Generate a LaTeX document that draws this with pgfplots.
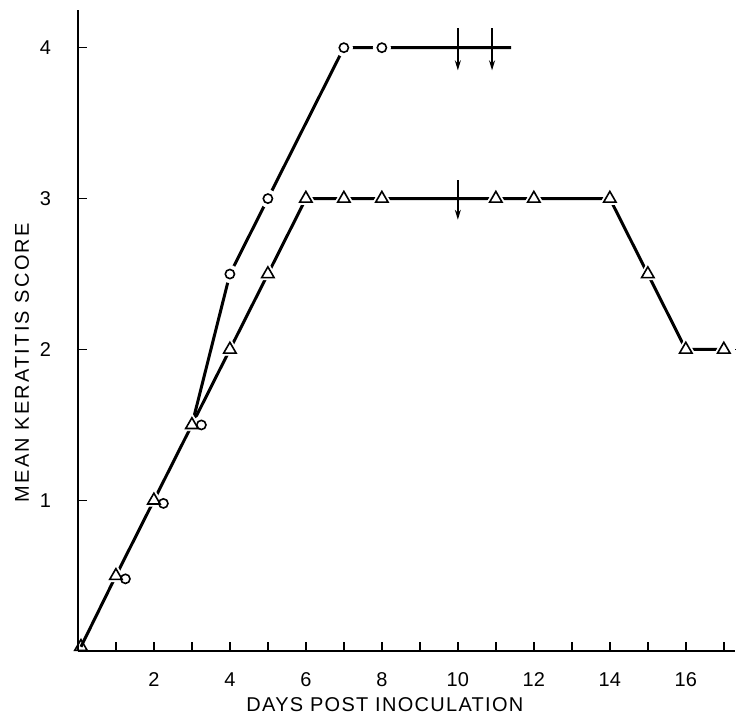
\documentclass[border=0pt]{standalone}
\usepackage{fontspec}
\setmainfont{Liberation Sans}
\usepackage{pgfplots}
\pgfplotsset{compat=1.18}
\usetikzlibrary{arrows.meta}
\begin{document}
\begin{tikzpicture}
\begin{axis}[
  scale only axis,
  width=329pt, height=321pt,
  xmin=0, xmax=17.3, ymin=0, ymax=4.25,
  axis x line=bottom, axis y line=left,
  axis line style={-, line width=0.8pt},
  xtick={2,4,...,16}, minor xtick={1,3,...,17},
  ytick={1,2,3,4},
  tick align=inside,
  major tick length=4.5pt, minor tick length=4.5pt,
  every tick/.style={black, line width=0.7pt},
  every minor tick/.style={black, line width=0.7pt},
  /pgf/number format/assume math mode=true,
  tick label style={font=\fontsize{10}{12}\selectfont},
  xticklabel style={yshift=-7pt},
  yticklabel style={xshift=-10pt},
  xlabel={DAYS POST INOCULATION},
  ylabel={MEAN KERATITIS SCORE},
  xlabel style={font=\fontsize{10}{12}\selectfont\addfontfeature{LetterSpace=6.5}, at={(axis description cs:0.467,0)}, anchor=north, yshift=-19.5pt},
  ylabel style={font=\fontsize{10}{12}\selectfont\addfontfeature{LetterSpace=11}, at={(axis description cs:-0.085,0.45)}, anchor=center},
  clip=false,
]
% lines
\addplot[black, line width=1.5pt] coordinates {(0.08,0.03)(1,0.5)(2,1)(3,1.5)(4,2)(5,2.5)(6,3)(7,3)(8,3)(11,3)(12,3)(14,3)(15,2.5)(16,2)(17,2)};
\addplot[black, line width=1.5pt] coordinates {(3,1.5)(4,2.5)(5,3)(7,4)(8,4)(11.4,4)};
\addplot[black, line width=0.8pt, dotted] coordinates {(17.15,2)(17.3,2)};
% halos
\addplot[only marks, white, mark=triangle*, mark size=5.8pt, mark options={fill=white, draw=white}] coordinates {(1,0.5)(2,1)(3,1.5)(4,2)(5,2.5)(6,3)(7,3)(8,3)(11,3)(12,3)(14,3)(15,2.5)(16,2)(17,2)};
\addplot[only marks, white, mark=*, mark size=4.3pt, mark options={fill=white, draw=white}] coordinates {(1.25,0.48)(2.25,0.98)(3.25,1.5)(4,2.5)(5,3)(7,4)(8,4)};
% markers
\addplot[only marks, black, mark=triangle, mark size=3.6pt, mark options={line width=0.8pt, fill=white}] coordinates {(0.08,0.03)(1,0.5)(2,1)(3,1.5)(4,2)(5,2.5)(6,3)(7,3)(8,3)(11,3)(12,3)(14,3)(15,2.5)(16,2)(17,2)};
\addplot[only marks, black, mark=o, mark size=2.3pt, mark options={line width=0.8pt, fill=white}] coordinates {(1.25,0.48)(2.25,0.98)(3.25,1.5)(4,2.5)(5,3)(7,4)(8,4)};
% arrows
\addplot[black, line width=0.7pt, -{Stealth[length=5pt,width=3pt]}] coordinates {(10,4.13)(10,3.85)};
\addplot[black, line width=0.7pt, -{Stealth[length=5pt,width=3pt]}] coordinates {(10.9,4.13)(10.9,3.85)};
\addplot[black, line width=0.7pt, -{Stealth[length=5pt,width=3pt]}] coordinates {(10,3.12)(10,2.86)};
\end{axis}
\path[use as bounding box] (-39pt,-30.5pt) rectangle (329pt,326pt);
\end{tikzpicture}
\end{document}
